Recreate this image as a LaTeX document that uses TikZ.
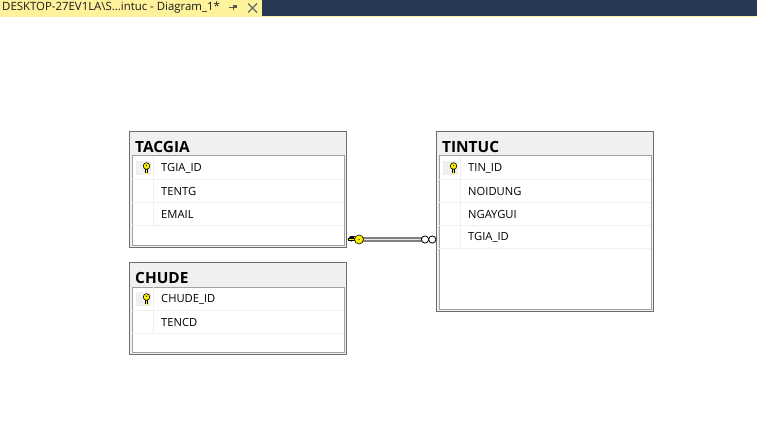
\documentclass[tikz,border=0pt]{standalone}
\usepackage{fontspec}
\setmainfont{Open Sans}
\definecolor{tabBg}{HTML}{FFF29D}
\definecolor{barBg}{HTML}{293955}
\definecolor{boxEdge}{HTML}{6D6D6D}
\definecolor{headBg}{HTML}{F0F0F0}
\definecolor{gridEdge}{HTML}{A0A0A0}
\definecolor{keyFill}{HTML}{FFF200}
\tikzset{
    tablebox/.style={draw=boxEdge, line width=1pt, fill=headBg, anchor=north west, inner sep=0, outer sep=0},
    gridbox/.style={draw=gridEdge, line width=1pt, fill=white, anchor=north west, inner sep=0, outer sep=0},
    tabletitle/.style={anchor=west, inner sep=0, font=\fontsize{15.4}{17}\selectfont\bfseries, text=black},
    fieldname/.style={anchor=west, inner sep=0, font=\fontsize{11.2}{13}\selectfont, text=black},
    keycell/.style={fill=headBg, anchor=north west, inner sep=0, outer sep=0, minimum width=15, minimum height=14},
    keybody/.style={draw=black, line width=.6pt, fill=keyFill},
    relline/.style={draw=gray, line width=4.4pt},
    relcore/.style={draw=white!80!gray, line width=1.6pt}
}
% #1 name, #2 x, #3 y, #4 height, #5 title
\newcommand{\drawTable}[5]{
    \node[tablebox, minimum width=217, minimum height=#4] (#1) at (#2,#3) {};
    \node[gridbox, minimum width=212, minimum height=#4-26.5] (#1grid) at (#2+2.5,#3+24.5) {};
    \node[tabletitle] (#1title) at (#2+5.5,#3+15.5) {#5};
}
% #1 name, #2 x, #3 y of row centre, #4 text
\newcommand{\drawField}[4]{
    \draw[headBg, line width=1pt] (#2+2.5,#3+11.5) -- (#2+214.5,#3+11.5);
    \draw[headBg, line width=1pt] (#2+23.5,#3-12) -- (#2+23.5,#3+11.5);
    \node[fieldname] (#1) at (#2+31.5,#3) {#4};
}
% #1 name, #2 x, #3 y of row centre
\newcommand{\drawKey}[3]{
    \node[keycell] (#1) at (#2+6.5,#3-7) {};
    \draw[black, line width=2.4pt] (#2+17,#3-1) -- (#2+17,#3+5);
    \draw[keyFill, line width=1pt] (#2+17,#3-1) -- (#2+17,#3+5) -- (#2+18.5,#3+5);
    \filldraw[keybody] (#2+17,#3-2) circle (3.3);
    \fill[black] (#2+17,#3-2.8) circle (.6);
}

\begin{document}
\begin{tikzpicture}[x=1pt,y=-1pt]
\useasboundingbox (0,0) rectangle (757,444);

% Tab strip
\fill[barBg] (262,0) rectangle (757,16);
\fill[tabBg] (0,0) rectangle (262,16);
\fill[tabBg] (0,16) rectangle (757,17.5);
\node[anchor=west, inner sep=0, font=\fontsize{11.4}{13}\selectfont, text=black!90] (tabtitle) at (2,8) {DESKTOP-27EV1LA\textbackslash S...intuc - Diagram\_1*};
\node[inner sep=0, font=\fontsize{9}{9}\selectfont, text=black!65] (tabpin) at (233,7.5) {\rule{4pt}{.8pt}\rule[-2pt]{.8pt}{5pt}\rule{3pt}{3pt}};
\draw[black!60, line width=1.1pt] (248,3.5) -- (257,12.5) (248,12.5) -- (257,3.5);

% Tables
\drawTable{tacgia}{129.5}{131}{116}{TACGIA}
\drawKey{tacgiakey}{129.5}{168}
\drawField{tgiaid}{129.5}{168}{TGIA\_ID}
\drawField{tentg}{129.5}{191}{TENTG}
\drawField{email}{129.5}{214}{EMAIL}

\drawTable{chude}{129.5}{262.5}{91.5}{CHUDE}
\drawKey{chudekey}{129.5}{299}
\drawField{chudeid}{129.5}{299}{CHUDE\_ID}
\drawField{tencd}{129.5}{322}{TENCD}

\drawTable{tintuc}{436.5}{131}{180}{TINTUC}
\drawKey{tintuckey}{436.5}{168}
\drawField{tinid}{436.5}{168}{TIN\_ID}
\drawField{noidung}{436.5}{191}{NOIDUNG}
\drawField{ngaygui}{436.5}{214}{NGAYGUI}
\drawField{tintgia}{436.5}{237}{TGIA\_ID}

% Relationship
\coordinate (relstart) at (tacgia.south east |- 0,239.5);
\coordinate (relend) at (tintuc.south west |- 0,239.5);
\draw[relline] ([xshift=16]relstart) -- ([xshift=-15]relend);
\draw[relcore] ([xshift=16]relstart) -- ([xshift=-15]relend);
\draw[black, line width=2.8pt] ([xshift=1.5]relstart) -- ([xshift=10]relstart);
\fill[black] ([xshift=1]relstart) -- ([xshift=5,yshift=-2]relstart) -- ([xshift=8.5,yshift=3.5]relstart) -- ([xshift=4,yshift=3.5]relstart) -- cycle;
\draw[keyFill, line width=1.2pt] ([xshift=2.5]relstart) -- ([xshift=10]relstart);
\filldraw[keybody] ([xshift=12.5]relstart) circle (4.5);
\fill[black] ([xshift=12.5]relstart) circle (.7);
\draw[black, line width=.8pt, fill=white] ([xshift=-11.5]relend) circle (3.6);
\draw[black, line width=.8pt, fill=white] ([xshift=-4.2]relend) circle (3.6);
\end{tikzpicture}
\end{document}
